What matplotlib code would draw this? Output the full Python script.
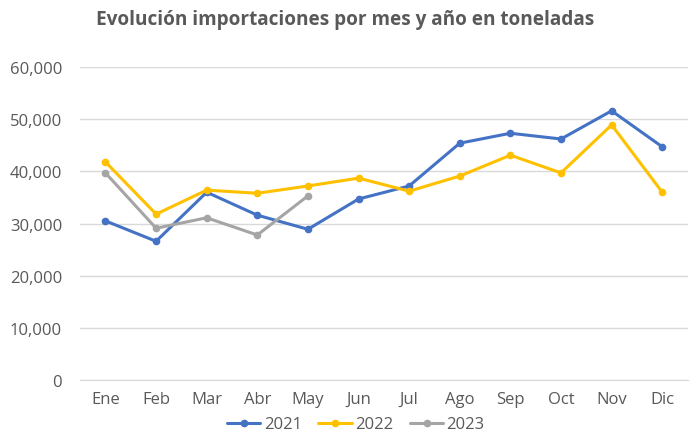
import matplotlib
matplotlib.use("Agg")
import matplotlib.pyplot as plt
from matplotlib.ticker import FuncFormatter

months = ["Ene", "Feb", "Mar", "Abr", "May", "Jun", "Jul", "Ago", "Sep", "Oct", "Nov", "Dic"]
v2021 = [30500, 26600, 36000, 31600, 28900, 34700, 37200, 45400, 47300, 46200, 51600, 44700]
v2022 = [41800, 31800, 36400, 35800, 37200, 38700, 36200, 39100, 43100, 39700, 48900, 36000]
v2023 = [39700, 29100, 31100, 27800, 35300]
series_names = ["2021", "2022", "2023"]
colors = ["#4472C4", "#FFC000", "#A5A5A5"]

plt.rcParams['font.family'] = ['Open Sans', 'DejaVu Sans']
fig = plt.figure(figsize=(6.91, 4.35), dpi=100)
ax = fig.add_axes([0.116, 0.124, 0.879, 0.7197])

x = list(range(len(months)))
for vals, name, c in zip([v2021, v2022, v2023], series_names, colors):
    ax.plot(x[:len(vals)], vals, color=c, lw=2.2, marker='o', ms=4.5, label=name,
            solid_joinstyle='round', solid_capstyle='round')

ax.set_xlim(-0.5, 11.5)
ax.set_ylim(0, 60000)
ax.set_yticks(range(0, 60001, 10000))
ax.yaxis.set_major_formatter(FuncFormatter(lambda v, p: f"{int(v):,}"))
ax.set_xticks(x)
ax.set_xticklabels(months)
ax.grid(axis='y', color='#D9D9D9', lw=1)
ax.set_axisbelow(True)
for s in ['top', 'right', 'left']:
    ax.spines[s].set_visible(False)
ax.spines['bottom'].set_color('#D9D9D9')
ax.tick_params(axis='both', length=0, colors='#595959', labelsize=12)
ax.tick_params(axis='x', pad=8)
ax.tick_params(axis='y', pad=13)

fig.text(0.5, 0.955, "Evolución importaciones por mes y año en toneladas",
         ha='center', va='center', fontsize=13.7, fontweight='bold', color='#595959')

leg = fig.legend(loc='center', bbox_to_anchor=(0.515, 0.022), ncol=3, frameon=False,
                 fontsize=12, handlelength=2.0, handletextpad=0.2, columnspacing=1.0,
                 labelcolor='#595959')

fig.savefig("out.png", dpi=100)
